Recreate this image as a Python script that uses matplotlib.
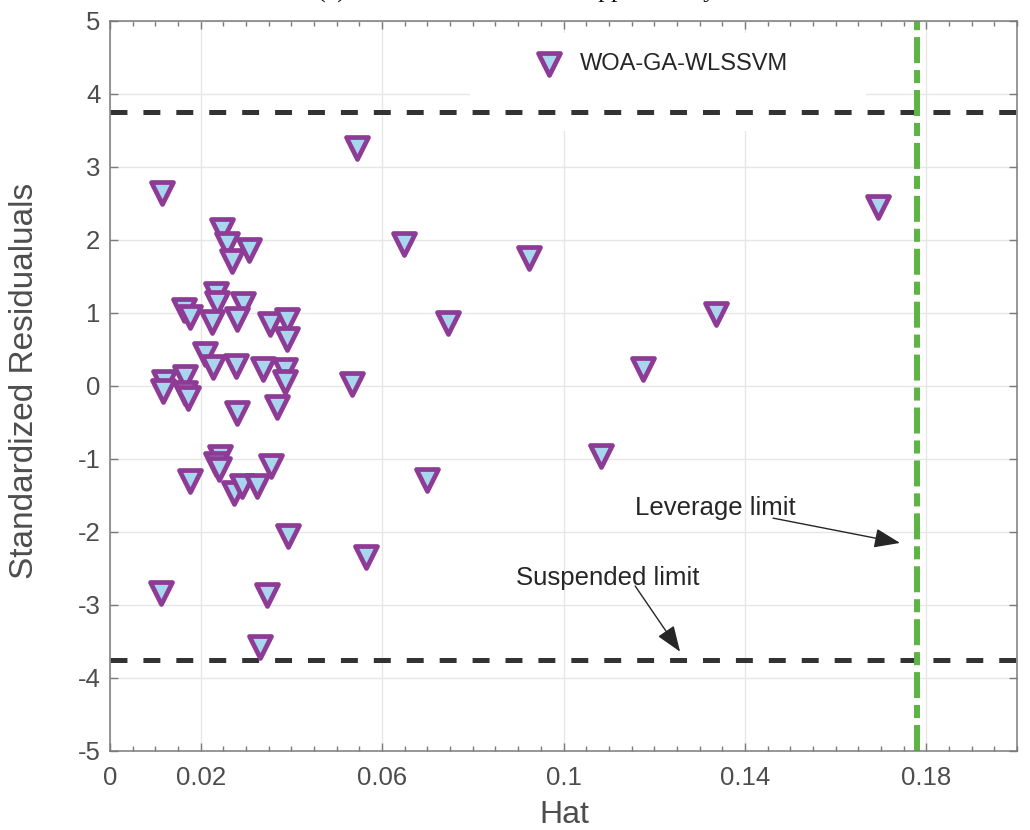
import matplotlib
matplotlib.use("Agg")
import matplotlib.pyplot as plt
from matplotlib.patches import Rectangle
from matplotlib.ticker import MultipleLocator, FixedLocator

plt.rcParams['font.family'] = ['Liberation Sans', 'DejaVu Sans']
plt.rcParams['axes.unicode_minus'] = False
plt.rcParams['lines.scale_dashes'] = False

# Hat (leverage) values and standardized residuals of the WOA-GA-WLSSVM model
hat = [0.0114, 0.0248, 0.0257, 0.0307, 0.0268, 0.0234, 0.0237, 0.0294, 0.0163, 0.0176,
       0.0224, 0.0281, 0.0353, 0.0391, 0.0390, 0.0209, 0.0228, 0.0278, 0.0337, 0.0386,
       0.0386, 0.0118, 0.0116, 0.0165, 0.0165, 0.0172, 0.0279, 0.0368, 0.0243, 0.0234,
       0.0241, 0.0176, 0.0356, 0.0273, 0.0290, 0.0325, 0.0393, 0.0112, 0.0346, 0.0331,
       0.0544, 0.0649, 0.0924, 0.0745, 0.0534, 0.0698, 0.0564,
       0.1336, 0.1175, 0.1083, 0.1693]
std_resid = [2.64, 2.14, 1.95, 1.86, 1.71, 1.26, 1.14, 1.12, 1.04, 0.95,
             0.87, 0.92, 0.85, 0.90, 0.64, 0.44, 0.26, 0.27, 0.23, 0.22,
             0.06, 0.05, -0.07, 0.13, -0.09, -0.16, -0.37, -0.29, -0.97, -1.07,
             -1.14, -1.30, -1.10, -1.46, -1.37, -1.37, -2.06, -2.84, -2.86, -3.57,
             3.26, 1.95, 1.75, 0.86, 0.03, -1.29, -2.34,
             0.99, 0.23, -0.96, 2.45]

series_name = "WOA-GA-WLSSVM"
leverage_limit = 0.178
residual_limit = 3.75

x_ticks = [0, 0.02, 0.06, 0.1, 0.14, 0.18]
x_tick_labels = ["0", "0.02", "0.06", "0.1", "0.14", "0.18"]
y_ticks = [-5, -4, -3, -2, -1, 0, 1, 2, 3, 4, 5]

edge_purple = '#8e3b96'
face_blue = '#a8d6ef'
text_dark = '#262626'
tick_gray = '#4d4d4d'

fig = plt.figure(figsize=(10.3, 8.3), dpi=100)
ax = fig.add_axes([0.1068, 0.0952, 0.8806, 0.8795])

ax.set_xlim(0, 0.2)
ax.set_ylim(-5, 5)
ax.xaxis.set_major_locator(FixedLocator(x_ticks))
ax.set_xticklabels(x_tick_labels)
ax.xaxis.set_minor_locator(MultipleLocator(0.005))
ax.set_yticks(y_ticks)
ax.set_yticklabels([str(v) for v in y_ticks])

ax.set_axisbelow(True)
ax.grid(True, which='major', color='#e6e6e6', linewidth=1.0)

for sp in ax.spines.values():
    sp.set_color('#7a7a7a')
    sp.set_linewidth(1.1)

ax.tick_params(which='both', direction='in', top=True, right=True,
               color='#7a7a7a', width=1.0)
ax.tick_params(which='major', length=6)
ax.tick_params(which='minor', length=3.6)
ax.tick_params(axis='x', which='major', labelsize=18.5, labelcolor=tick_gray, pad=11)
ax.tick_params(axis='y', which='major', labelsize=18.5, labelcolor=tick_gray, pad=7)

# white panel behind the legend entry
ax.add_patch(Rectangle((0.397, 0.849), 0.4366, 0.134, transform=ax.transAxes,
                       facecolor='white', edgecolor='none', zorder=1))

# residual limits and leverage limit
ax.axhline(residual_limit, color='#333333', linewidth=3.6, dashes=(12.2, 11.5), zorder=2)
ax.axhline(-residual_limit, color='#333333', linewidth=3.6, dashes=(12.2, 11.5), zorder=2)
ax.axvline(leverage_limit, color='#5cb444', linewidth=4.3,
           dashes=(18.7, 5.0, 9.4, 5.0), zorder=2.5)

ax.scatter(hat, std_resid, marker='v', s=250, facecolor=face_blue,
           edgecolor=edge_purple, linewidths=3.4, zorder=3, label=series_name)

leg = ax.legend(loc='center', bbox_to_anchor=(0.608, 0.941), frameon=False,
                fontsize=17, handlelength=1.2, handletextpad=0.67, borderpad=0,
                scatterpoints=1)
for t in leg.get_texts():
    t.set_color(text_dark)
leg.set_zorder(4)

# annotations
arrow_style = dict(arrowstyle='-|>,head_length=0.8,head_width=0.3', color=text_dark,
                   lw=1.0, mutation_scale=20, shrinkA=0, shrinkB=0)
ax.text(0.1158, -1.767, "Leverage limit", fontsize=18.5, color=text_dark,
        ha='left', va='baseline', zorder=4)
ax.annotate('', xy=(0.1742, -2.15), xytext=(0.1462, -1.81), arrowprops=arrow_style, zorder=4)
ax.text(0.0895, -2.726, "Suspended limit", fontsize=18.5, color=text_dark,
        ha='left', va='baseline', zorder=4)
ax.annotate('', xy=(0.1257, -3.64), xytext=(0.1158, -2.74), arrowprops=arrow_style, zorder=4)

# axis labels
fig.text(564 / 1030, 1 - 815 / 830, "Hat", fontsize=23, color=tick_gray,
         ha='center', va='center')
fig.text(25 / 1030, 1 - 381 / 830, "Standardized Residualuals", fontsize=24,
         color=tick_gray, rotation=90, ha='center', va='center')

# panel title, mostly above the top edge of the canvas
fig.text(317 / 1030, 1 + 2 / 830, "(c) WOA-GA-WLSSVM applicability domain",
         fontsize=18.7, family=['Liberation Serif', 'DejaVu Serif'],
         color='#111111', ha='left', va='baseline')

fig.savefig("out.png", dpi=100)
